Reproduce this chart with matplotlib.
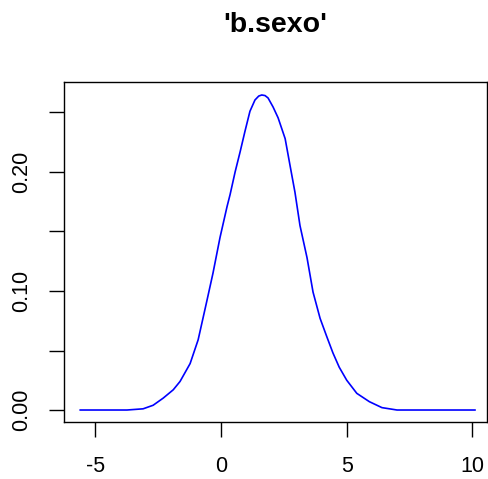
import numpy as np
from matplotlib import pyplot as plt

plt.rcParams['font.family'] = ['Liberation Sans', 'DejaVu Sans']

# density curve
x = [-5.6, -3.74, -3.1, -2.7, -2.3, -1.9, -1.63, -1.23, -0.91, -0.56, -0.32, -0.04,
     0.24, 0.36, 0.56, 0.76, 0.95, 1.15, 1.35, 1.5, 1.62, 1.75, 1.87, 2.07, 2.27,
     2.55, 2.74, 2.94, 3.14, 3.42, 3.66, 3.94, 4.2, 4.45, 4.7, 5.0, 5.4, 5.9, 6.4,
     7.0, 10.1]
y = [0.0, 0.0, 0.001, 0.004, 0.010, 0.017, 0.024, 0.039, 0.059, 0.092, 0.115, 0.145,
     0.171, 0.181, 0.200, 0.217, 0.234, 0.251, 0.2605, 0.2638, 0.2647, 0.2642, 0.2622, 0.2546, 0.2455,
     0.228, 0.206, 0.183, 0.155, 0.128, 0.099, 0.077, 0.062, 0.048, 0.036, 0.025, 0.014, 0.007, 0.002,
     0.0, 0.0]

xticks = [-5, 0, 5, 10]
yticks = [0.00, 0.05, 0.10, 0.15, 0.20, 0.25]
ylabels = ['0.00', '', '0.10', '', '0.20', '']

fig = plt.figure(figsize=(4.89, 4.79), dpi=100)
ax = fig.add_axes([0.1309, 0.1196, 0.996 - 0.1309, 0.8288 - 0.1196])

ax.plot(x, y, color='blue', lw=1.2)

ax.set_xlim(-6.245, 10.58)
ax.set_ylim(-0.00983, 0.2756)
ax.set_xticks(xticks)
ax.set_xticklabels([str(t) for t in xticks])
ax.set_yticks(yticks)
ax.set_yticklabels(ylabels, rotation=90, va='center')
ax.tick_params(axis='both', length=11, width=1.0, labelsize=15.5, color='black')
ax.tick_params(axis='x', pad=14)
ax.tick_params(axis='y', pad=12)
for s in ax.spines.values():
    s.set_linewidth(1.0)

fig.text(0.5624, 1 - 25 / 479, "'b.sexo'", ha='center', va='center',
         fontsize=20.5, fontweight='bold')

plt.savefig('out.png', dpi=100)
